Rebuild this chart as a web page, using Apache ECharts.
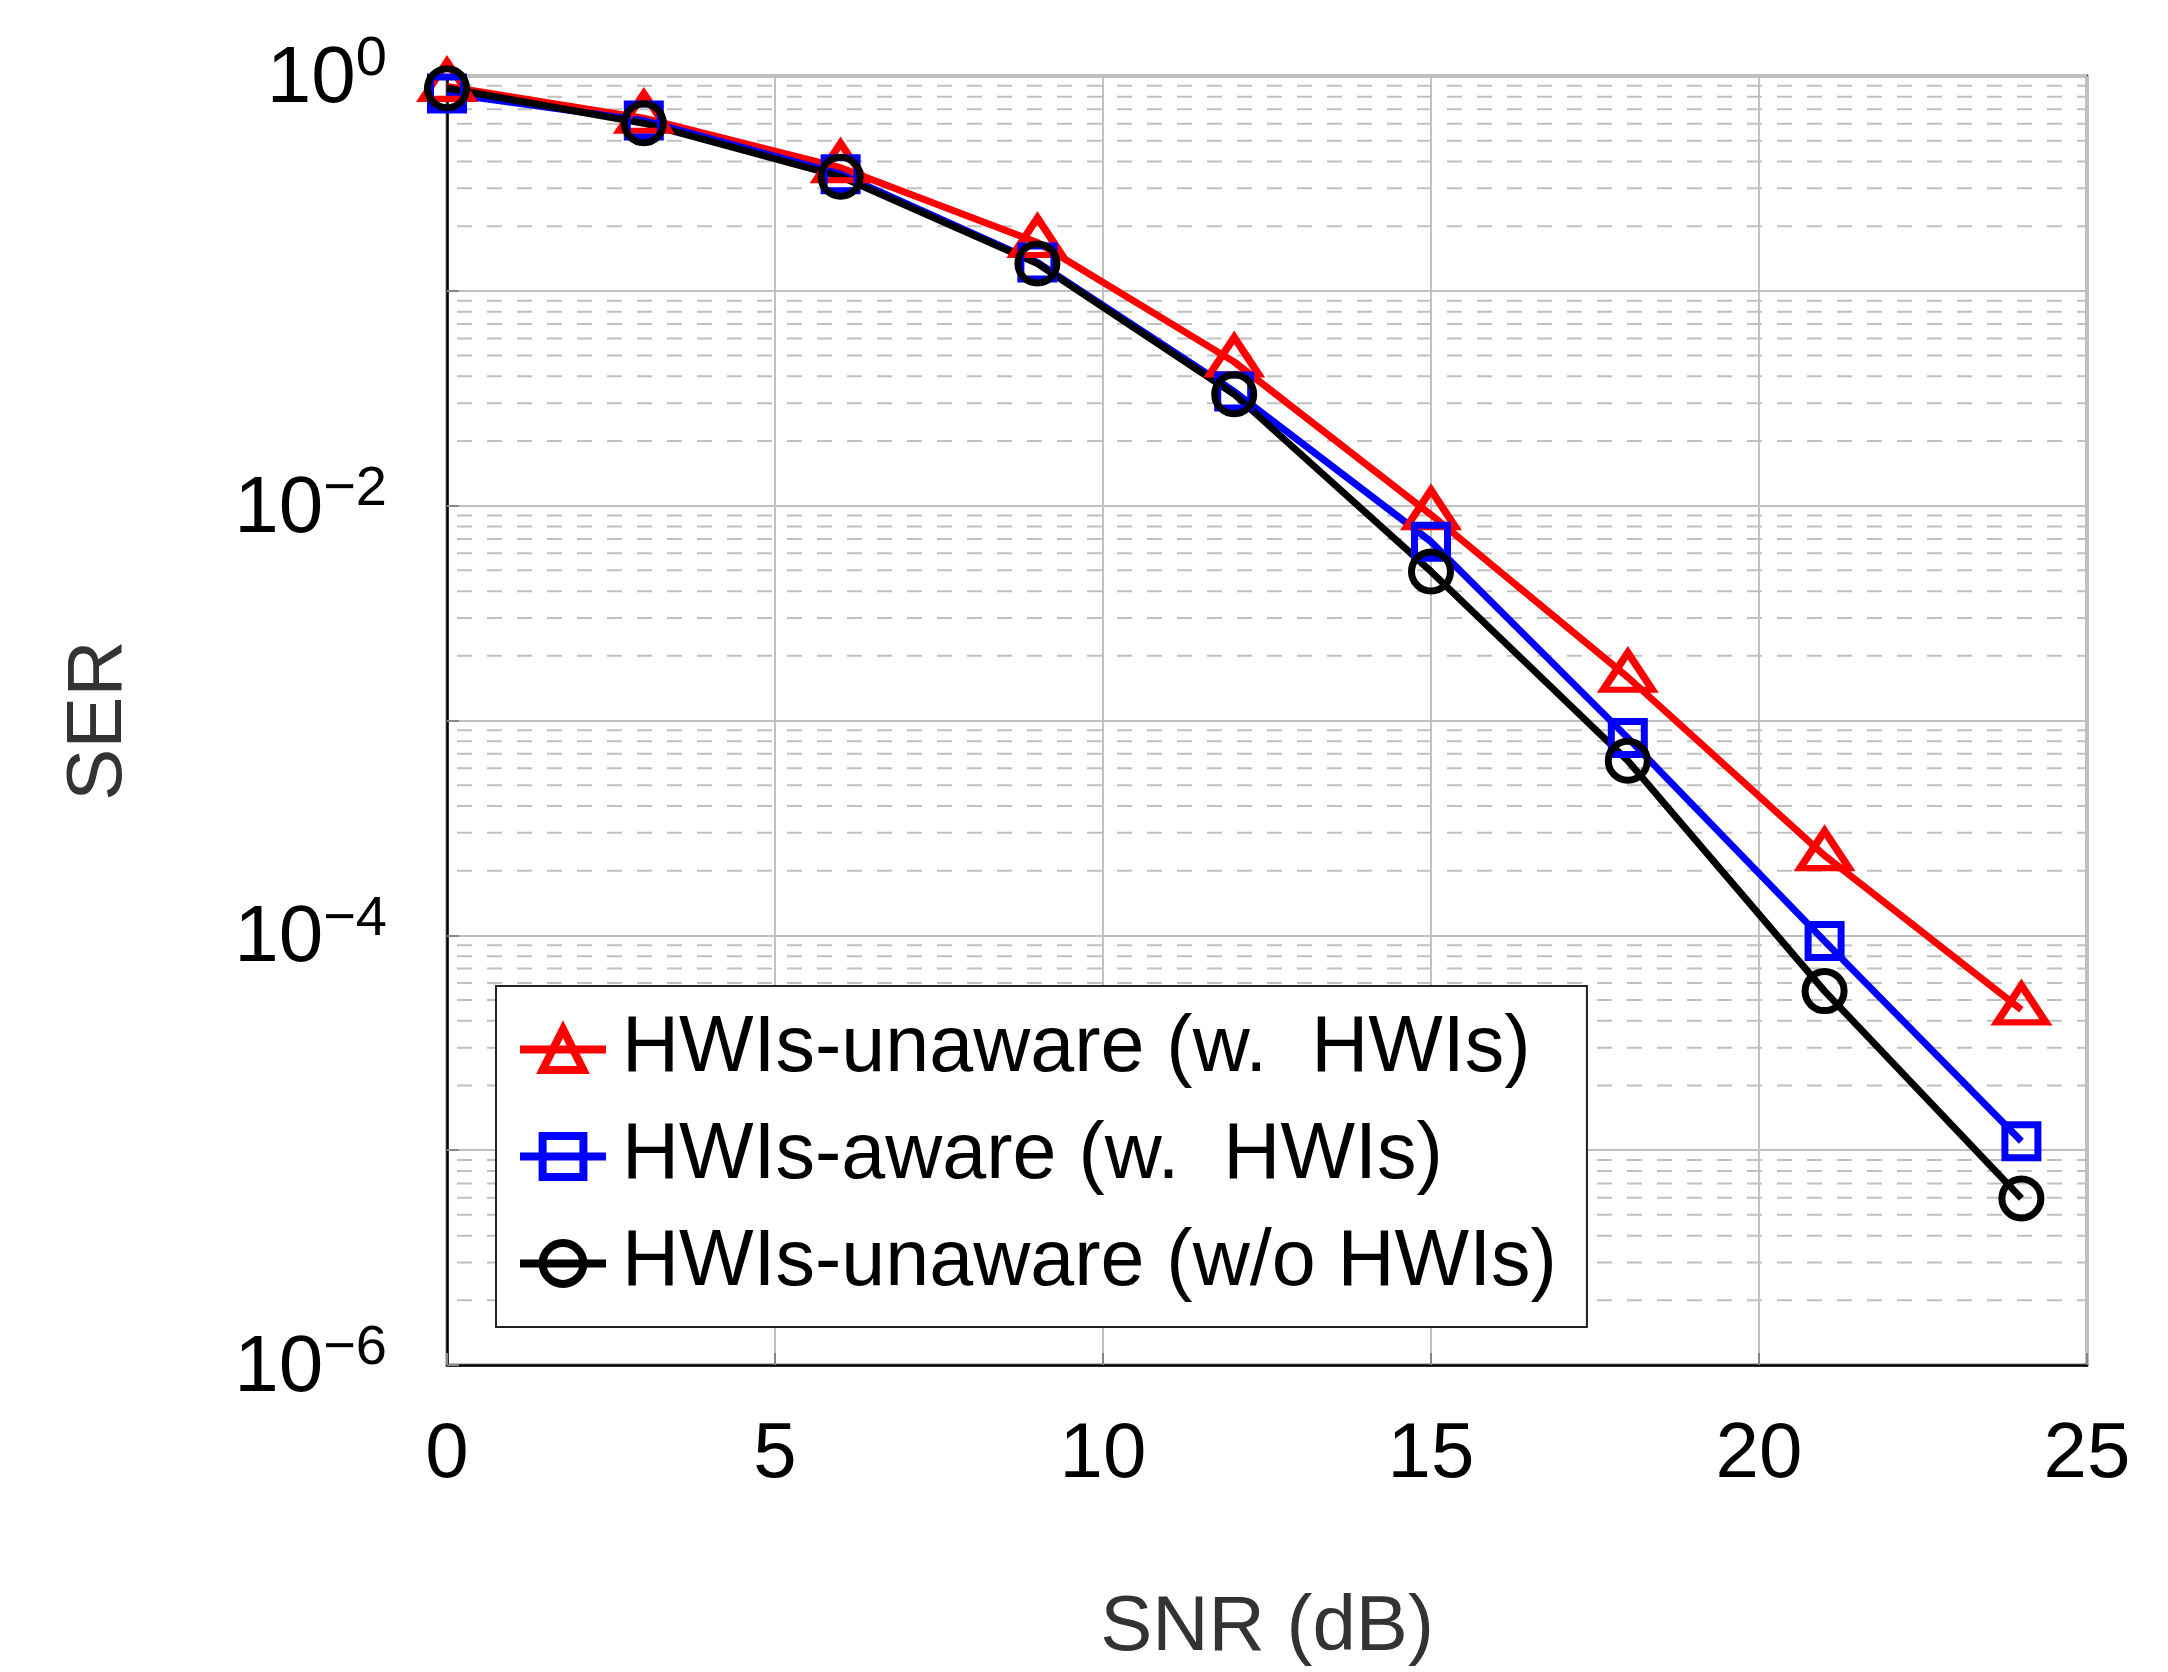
<!DOCTYPE html>
<html>
<head>
<meta charset="utf-8">
<script src="https://cdn.jsdelivr.net/npm/echarts@6/dist/echarts.min.js"></script>
<style>
  html, body { margin: 0; padding: 0; background: #fff; }
  #chart { width: 2168px; height: 1672px; }
</style>
</head>
<body>
<div id="chart"></div>
<script>
  // SNR points (dB)
  const snr = [0, 3, 6, 9, 12, 15, 18, 21, 24];

  // SER values
  const serUnawareHwi = [0.895, 0.636, 0.374, 0.168, 0.0467, 0.00908, 0.00159, 2.35e-4, 4.5e-5];
  const serAwareHwi = [0.828, 0.62, 0.349, 0.1355, 0.034, 0.0068, 8.3e-4, 9.4e-5, 1.1e-5];
  const serUnawareNoHwi = [0.877, 0.603, 0.34, 0.134, 0.033, 0.00494, 6.5e-4, 5.5e-5, 5.96e-6];

  const seriesNames = ['HWIs-unaware (w.  HWIs)', 'HWIs-aware (w.  HWIs)', 'HWIs-unaware (w/o HWIs)'];
  const seriesColors = ['#ff0000', '#0000ff', '#000000'];

  // axis ticks
  const xTicks = { min: 0, max: 25, step: 5 };
  const yDecades = [-6, -5, -4, -3, -2, -1, 0];
  const yLabelDecades = [-6, -4, -2, 0];
  const minorMultipliers = [2, 3, 4, 5, 6, 7, 8, 9];

  const font = '"Liberation Sans", Arial, sans-serif';
  const gridGray = '#c0c0c0';
  const lw = 7;

  // minor grid: one broken line series, a segment per minor tick
  const minorGrid = [];
  yDecades.slice(0, -1).forEach((e) => {
    minorMultipliers.forEach((m) => {
      const v = m * Math.pow(10, e);
      minorGrid.push([xTicks.min, v], [xTicks.max, v], [xTicks.max, '-']);
    });
  });

  const pairs = (ys) => snr.map((x, i) => [x, ys[i]]);

  const makeSeries = (name, ys, color, symbol, size, offset) => ({
    name: name,
    type: 'line',
    data: pairs(ys),
    symbol: symbol,
    symbolSize: size,
    symbolOffset: offset,
    showSymbol: true,
    lineStyle: { color: color, width: lw },
    itemStyle: { color: 'rgba(0,0,0,0)', borderColor: color, borderWidth: lw },
    emphasis: { disabled: true },
    z: 3,
  });

  const chart = echarts.init(document.getElementById('chart'));

  const option = {
    animation: false,
    backgroundColor: '#fff',
    grid: {
      left: 447,
      right: 81,
      top: 76,
      bottom: 303,
      show: true,
      borderColor: '#000',
      borderWidth: 2.5,
      backgroundColor: 'transparent',
    },
    legend: {
      data: seriesNames.map((n, i) => ({
        name: n,
        lineStyle: { color: seriesColors[i], width: 8 },
        itemStyle: { color: 'rgba(0,0,0,0)', borderColor: seriesColors[i], borderWidth: 8 },
      })),
      orient: 'vertical',
      left: 496,
      top: 986,
      padding: [24, 30, 24, 20],
      itemGap: 28,
      itemWidth: 86,
      itemHeight: 51,
      backgroundColor: '#fff',
      borderColor: '#222',
      borderWidth: 2,
      textStyle: {
        fontFamily: font,
        fontSize: 79,
        color: '#000',
        padding: [0, 0, 0, 11],
      },
      z: 10,
    },
    xAxis: {
      type: 'value',
      min: xTicks.min,
      max: xTicks.max,
      interval: xTicks.step,
      name: 'SNR (dB)',
      nameLocation: 'middle',
      nameGap: 224,
      nameTextStyle: { fontFamily: font, fontSize: 78, color: '#333' },
      axisLine: { show: true, lineStyle: { color: '#000', width: 2.5 } },
      axisTick: { show: true, inside: true, length: 12, lineStyle: { color: '#888', width: 2 } },
      axisLabel: { fontFamily: font, fontSize: 78, color: '#000', margin: 51 },
      splitLine: { show: true, lineStyle: { color: gridGray, width: 2 } },
    },
    yAxis: {
      type: 'log',
      logBase: 10,
      min: 1e-6,
      max: 1,
      interval: 1,
      name: 'SER',
      nameLocation: 'middle',
      nameGap: 309,
      nameTextStyle: { fontFamily: font, fontSize: 78, color: '#333' },
      axisLine: { show: true, lineStyle: { color: '#000', width: 2.5 } },
      axisTick: { show: true, inside: true, length: 12, lineStyle: { color: '#888', width: 2 } },
      axisLabel: {
        margin: 60,
        formatter: (v) => {
          const e = Math.round(Math.log10(v));
          if (yLabelDecades.indexOf(e) < 0) return '';
          return '{b|10}{s|' + (e < 0 ? '\u2212' + (-e) : e) + '}';
        },
        rich: {
          b: { fontFamily: font, fontSize: 80, color: '#000', verticalAlign: 'bottom' },
          s: { fontFamily: font, fontSize: 56, color: '#000', verticalAlign: 'bottom', padding: [0, 0, 32, 0] },
        },
      },
      splitLine: { show: true, lineStyle: { color: gridGray, width: 2 } },
    },
    series: [
      {
        name: 'minor-grid',
        type: 'line',
        data: minorGrid,
        symbol: 'none',
        silent: true,
        connectNulls: false,
        lineStyle: { color: gridGray, width: 2, type: [15, 15], dashOffset: -10 },
        emphasis: { disabled: true },
        z: 1,
      },
      makeSeries(seriesNames[0], serUnawareHwi, seriesColors[0], 'triangle', [49, 37], [0, -6]),
      makeSeries(seriesNames[1], serAwareHwi, seriesColors[1], 'rect', 33, [0, 0]),
      makeSeries(seriesNames[2], serUnawareNoHwi, seriesColors[2], 'circle', 39, [0, 0]),
    ],
  };

  chart.setOption(option);
  window.addEventListener('resize', () => chart.resize());
</script>
</body>
</html>
